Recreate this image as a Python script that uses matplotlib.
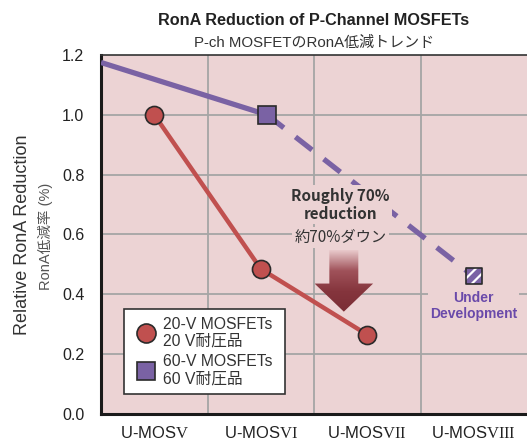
import numpy as np
import matplotlib
matplotlib.use("Agg")
import matplotlib.pyplot as plt
from matplotlib.patches import Polygon
from matplotlib.colors import LinearSegmentedColormap

plt.rcParams['font.family'] = ['Liberation Sans', 'Noto Sans CJK JP']
plt.rcParams['mathtext.fontset'] = 'custom'
plt.rcParams['mathtext.rm'] = 'Liberation Serif'
plt.rcParams['hatch.color'] = 'white'
plt.rcParams['hatch.linewidth'] = 1.6

# ---- data ----
categories = [r"U-MOS$\mathrm{V}$", r"U-MOS$\mathrm{VI}$", r"U-MOS$\mathrm{VII}$", r"U-MOS$\mathrm{VIII}$"]
x20 = [0, 1, 2]
y20 = [1.0, 0.485, 0.265]
x60_solid = [-0.5, 1.06]
y60_solid = [1.175, 1.0]
x60_dev = [1.06, 3.0]
y60_dev = [1.0, 0.46]
yticks = [0.0, 0.2, 0.4, 0.6, 0.8, 1.0, 1.2]

BG = '#ecd3d4'
RED = '#c0504f'
PURPLE = '#7a62a4'
GRID = '#a5a5a5'
CJK = ['Noto Sans CJK JP']

fig = plt.figure(figsize=(5.27, 4.45), dpi=100)
ax = fig.add_axes([0.1917, 0.0697, 0.8083, 0.8067])
ax.set_facecolor(BG)
ax.set_xlim(-0.5, 3.5)
ax.set_ylim(0, 1.2)

# grid
for gx in [0.5, 1.5, 2.5]:
    ax.axvline(gx, color=GRID, lw=1.3, zorder=1)
for gy in yticks[1:-1]:
    ax.axhline(gy, color=GRID, lw=1.3, zorder=1)

ax.set_xticks(range(len(categories)))
ax.set_xticklabels(categories, fontsize=12, color='#222222')
ax.set_yticks(yticks)
ax.set_yticklabels([f"{v:.1f}" for v in yticks], fontsize=11.5, color='#222222')
ax.tick_params(length=0, pad=12)
ax.tick_params(axis='x', pad=8)
for s in ['left', 'bottom']:
    ax.spines[s].set_linewidth(2.2)
    ax.spines[s].set_color('#1a1a1a')
ax.spines['top'].set_linewidth(1.2)
ax.spines['top'].set_color('#333333')
ax.spines['right'].set_visible(False)

# 60V lines
ax.plot(x60_solid, y60_solid, color=PURPLE, lw=3.8, solid_capstyle='butt', zorder=3)
ax.plot(x60_dev, y60_dev, color=PURPLE, lw=3.8, dashes=(4, 2.8), zorder=3)
ax.plot([x60_solid[-1]], [y60_solid[-1]], 's', ms=13, mfc=PURPLE, mec='#2a2a2a', mew=1.2, zorder=5)
ax.scatter([x60_dev[-1]], [y60_dev[-1]], s=11.5**2, marker='s', facecolor=PURPLE,
           edgecolor='white', hatch='///', linewidths=0, zorder=5)
ax.scatter([x60_dev[-1]], [y60_dev[-1]], s=11.5**2, marker='s', facecolor='none',
           edgecolor='#2a2a2a', linewidths=1.2, zorder=6)

# 20V line
ax.plot(x20, y20, color=RED, lw=3.2, zorder=3)
ax.plot(x20, y20, 'o', ms=13, mfc=RED, mec='#2a2a2a', mew=1.2, zorder=5)

# gradient arrow
cx = 1.78
top, neck, tip = 0.548, 0.436, 0.342
sw, hw = 0.136, 0.275
verts = [(cx - sw, top), (cx + sw, top), (cx + sw, neck), (cx + hw, neck),
         (cx, tip), (cx - hw, neck), (cx - sw, neck)]
poly = Polygon(verts, closed=True, facecolor='none', edgecolor='none', zorder=4)
ax.add_patch(poly)
cmap = LinearSegmentedColormap.from_list('arr', ['#7a2d35', '#85353d', '#a0525a', '#e9cacc'])
grad = np.linspace(0, 1, 256).reshape(-1, 1)
im = ax.imshow(grad, cmap=cmap, extent=[cx - hw, cx + hw, tip, top], origin='lower',
               aspect='auto', zorder=4)
im.set_clip_path(poly)

# annotation
bb = dict(facecolor=BG, edgecolor='none', pad=1.5)
ax.text(cx - 0.03, 0.7, "Roughly 70%\nreduction", ha='center', va='center', fontsize=11,
        family=CJK, fontweight='bold', color='#333333', linespacing=1.15, zorder=6, bbox=bb)
ax.text(cx - 0.03, 0.59, "約70%ダウン", ha='center', va='center', fontsize=11,
        family=CJK, color='#333333', zorder=6, bbox=bb)
ax.text(3.0, 0.36, "Under\nDevelopment", ha='center', va='center', fontsize=10,
        fontweight='bold', color='#6a4aaa', linespacing=1.2, zorder=6, bbox=bb)

# legend
h1 = plt.Line2D([], [], ls='none', marker='o', ms=13.7, mfc=RED, mec='#2a2a2a', mew=1.2)
h2 = plt.Line2D([], [], ls='none', marker='s', ms=12.7, mfc=PURPLE, mec='#2a2a2a', mew=1.2)
leg = ax.legend([h1, h2], ["20-V MOSFETs\n20 V耐圧品", "60-V MOSFETs\n60 V耐圧品"],
                loc='lower left', bbox_to_anchor=(0.054, 0.056, 0.378, 0), mode='expand',
                fontsize=11.3, frameon=True, fancybox=False, framealpha=1, borderpad=0.45,
                handletextpad=0.17, labelspacing=0.35, handlelength=1.87, borderaxespad=0)
leg.get_frame().set_edgecolor('#333333')
leg.get_frame().set_linewidth(1.2)
leg.set_zorder(7)
for t in leg.get_texts():
    t.set_color('#333333')

# titles
fig.text(0.595, 0.953, "RonA Reduction of P-Channel MOSFETs", ha='center', va='center',
         fontsize=11.7, fontweight='bold', color='#222222')
fig.text(0.595, 0.903, "P-ch MOSFETのRonA低減トレンド", ha='center', va='center',
         fontsize=10.8, color='#333333')

# y labels
fig.text(0.043, 0.472, "Relative RonA Reduction", rotation=90, ha='center', va='center',
         fontsize=13, color='#333333')
fig.text(0.087, 0.469, "RonA低減率 (%)", rotation=90, ha='center', va='center',
         fontsize=10.5, color='#555555')

fig.savefig("out.png", dpi=100)
